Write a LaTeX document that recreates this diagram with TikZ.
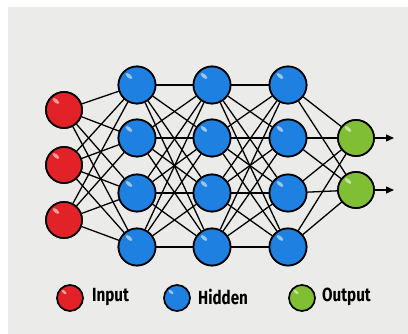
\documentclass[tikz,border=0pt]{standalone}
\usepackage{fontspec}
\setmainfont{Fira Sans}
\usetikzlibrary{arrows.meta}
\definecolor{bgc}{HTML}{EBEBE9}
\definecolor{redc}{HTML}{E32227}
\definecolor{bluec}{HTML}{1E80E0}
\definecolor{greenc}{HTML}{80BE34}
\tikzset{
  neuron/.style={circle,draw=black,line width=1.7pt,minimum size=36pt,inner sep=0pt},
  inp/.style={neuron,fill=redc},
  hid/.style={neuron,fill=bluec,minimum size=37pt},
  outp/.style={neuron,fill=greenc},
  legdot/.style={circle,draw=black,line width=1.7pt,minimum size=26pt,inner sep=0pt},
  link/.style={line width=1.3pt,black},
  legtext/.style={anchor=west,font=\fontsize{19}{19}\selectfont\bfseries,inner sep=0pt,xscale=0.8},
  glint/.style={white,opacity=0.55}
}
\begin{document}
\begin{tikzpicture}[x=1pt,y=-1pt]
\useasboundingbox (0,0) rectangle (408,334);
\fill[white] (0,0) rectangle (408,334);
\fill[bgc] (8,7) rectangle (408,334);
% nodes
\foreach \i/\y in {1/110,2/165,3/220} \node[inp] (i\i) at (64,\y) {};
\foreach \i/\y in {1/85,2/138,3/193,4/247} {
  \node[hid] (a\i) at (137,\y) {};
  \node[hid] (b\i) at (212,\y) {};
  \node[hid] (c\i) at (288,\y) {};
}
\foreach \i/\y in {1/138,2/190} \node[outp] (o\i) at (356,\y) {};
% links
\foreach \s in {1,2,3} \foreach \t in {1,2,3,4} \draw[link] (i\s) -- (a\t);
\foreach \s in {1,2,3,4} \foreach \t in {1,2,3,4} {
  \draw[link] (a\s) -- (b\t);
  \draw[link] (b\s) -- (c\t);
}
\foreach \s in {1,2,3,4} \foreach \t in {1,2} \draw[link] (c\s) -- (o\t);
% redraw nodes on top
\foreach \i/\y in {1/110,2/165,3/220} {\node[inp] at (64,\y) {}; \fill[glint,rotate around={-40:(56,\y-9)}] (56,\y-9) ellipse (4pt and 1.8pt);}
\foreach \x in {137,212,288} \foreach \y in {85,138,193,247} {\node[hid] at (\x,\y) {}; \fill[glint,rotate around={-40:(\x-8,\y-9)}] (\x-8,\y-9) ellipse (4pt and 1.8pt);}
\foreach \i/\y in {1/138,2/190} {\node[outp] at (356,\y) {}; \fill[glint,rotate around={-40:(348,\y-9)}] (348,\y-9) ellipse (4pt and 1.8pt);}
% output arrows
\coordinate (e1) at (394,138);
\coordinate (e2) at (394,190);
\draw[link,-{Triangle[length=8pt,width=7pt]}] (o1) -- (e1);
\draw[link,-{Triangle[length=8pt,width=7pt]}] (o2) -- (e2);
% legend
\node[legdot,fill=redc] (lr) at (70,298) {};
\node[legtext] (tr) at (92,297) {Input};
\node[legdot,fill=bluec] (lb) at (177,298) {};
\node[legtext] (tb) at (198,297) {Hidden};
\node[legdot,fill=greenc] (lg) at (302,298) {};
\node[legtext] (tg) at (322,297) {Output};
\foreach \x in {70,177,302} \fill[glint,rotate around={-40:(\x-6,298-6)}] (\x-6,292) ellipse (3pt and 1.4pt);
\end{tikzpicture}
\end{document}
